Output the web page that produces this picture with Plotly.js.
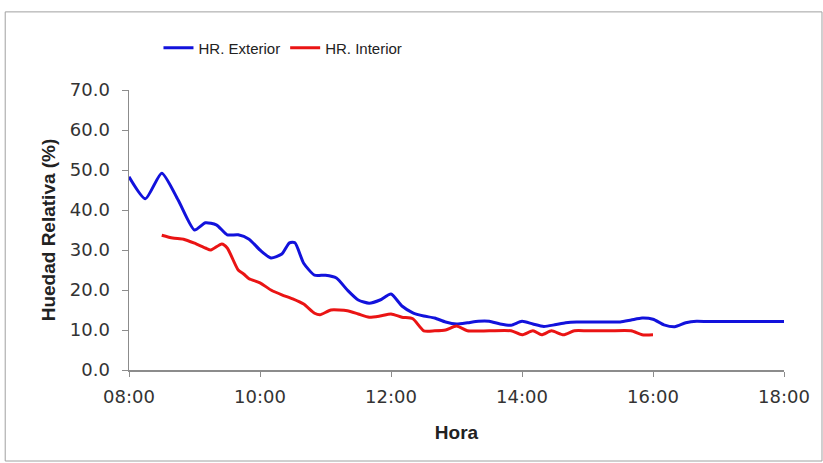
<!DOCTYPE html>
<html>
<head>
<meta charset="utf-8">
<script src="https://cdn.plot.ly/plotly-3.0.1.min.js"></script>
<style>html,body{margin:0;padding:0;background:#fff;}#chart{width:823px;height:463px;}</style>
</head>
<body>
<div id="chart"></div>
<script>
// Data
const extTimes = ["08:00","08:15","08:30","08:45","09:00","09:10","09:20","09:30","09:40","09:50",
  "10:00","10:10","10:20","10:27","10:32","10:40","10:50","11:00","11:10","11:20","11:30","11:40","11:50",
  "12:00","12:10","12:20","12:30","12:40","12:50","13:00","13:10","13:20","13:30","13:40","13:50",
  "14:00","14:10","14:20","14:30","14:40","14:50","15:00","15:10","15:20","15:30","15:40","15:50",
  "16:00","16:10","16:20","16:30","16:40","16:50","17:00","17:20","17:40","18:00"];
const extValues = [48.3,42.8,49.2,42.5,35.0,36.8,36.3,33.8,33.8,32.7,
  30.0,28.0,29.0,31.8,31.8,26.7,23.7,23.7,23.0,20.0,17.5,16.7,17.5,
  19.0,16.0,14.3,13.5,13.0,12.0,11.5,11.8,12.2,12.2,11.5,11.2,
  12.2,11.5,10.9,11.3,11.8,12.0,12.0,12.0,12.0,12.0,12.5,13.0,
  12.7,11.3,10.8,11.8,12.2,12.1,12.1,12.1,12.1,12.1];

const intTimes = ["08:30","08:40","08:50","09:00","09:10","09:15","09:25","09:30","09:40","09:45","09:50",
  "10:00","10:10","10:20","10:30","10:40","10:50","10:55","11:05","11:20","11:30","11:40","11:50",
  "12:00","12:10","12:20","12:30","12:40","12:50","13:00","13:10","13:30","13:50",
  "14:00","14:10","14:18","14:27","14:38","14:48","15:00","15:20","15:40","15:50","16:00"];
const intValues = [33.7,33.0,32.7,31.7,30.5,30.0,31.5,30.5,25.0,24.0,22.8,
  21.8,20.0,18.8,17.8,16.5,14.2,13.8,15.0,14.8,14.0,13.2,13.5,
  14.0,13.2,12.8,9.8,9.8,10.0,11.0,9.8,9.8,9.8,
  8.8,9.8,8.8,9.8,8.8,9.8,9.8,9.8,9.8,8.8,8.8];

const tickVals = [8,10,12,14,16,18];
const tickText = ["08:00","10:00","12:00","14:00","16:00","18:00"];

function toHours(t){ const p=t.split(":"); return +p[0] + (+p[1])/60; }

const font = "Liberation Sans, Arial, sans-serif";
const tickFamily = "DejaVu Sans, Liberation Sans, sans-serif";

const traces = [
  {x: extTimes.map(toHours), y: extValues, type: "scatter", mode: "lines", name: "HR. Exterior",
   line: {color: "#1212dc", width: 3, shape: "spline", smoothing: 0.6}},
  {x: intTimes.map(toHours), y: intValues, type: "scatter", mode: "lines", name: "HR. Interior",
   line: {color: "#ea1414", width: 3, shape: "spline", smoothing: 0.6}}
];

const layout = {
  width: 823, height: 463,
  margin: {l: 129, r: 39, t: 90, b: 93},
  paper_bgcolor: "#ffffff", plot_bgcolor: "#ffffff",
  font: {family: font, color: "#333333", size: 14},
  showlegend: true,
  legend: {orientation: "h", x: 0.045, xanchor: "left", y: 1.15, yanchor: "middle",
    font: {family: font, size: 15, color: "#222222"}, itemwidth: 30, bgcolor: "rgba(0,0,0,0)"},
  xaxis: {range: [8, 18], tickvals: tickVals, ticktext: tickText, showgrid: false, zeroline: false,
    showline: true, linecolor: "#8c8c8c", linewidth: 1.5, ticks: "outside", ticklen: 5, tickcolor: "#8c8c8c",
    ticklabelstandoff: 5,
    tickfont: {family: tickFamily, size: 18, color: "#333333"},
    title: {text: "<b>Hora</b>", font: {family: font, size: 19, color: "#222222"}, standoff: 19}},
  yaxis: {range: [0, 70], dtick: 10, tickformat: ".1f", showgrid: false, zeroline: false,
    showline: true, linecolor: "#8c8c8c", linewidth: 1.5, ticks: "outside", ticklen: 6, tickcolor: "#8c8c8c",
    ticklabelstandoff: 8,
    tickfont: {family: tickFamily, size: 18, color: "#333333"},
    title: {text: "<b>Huedad Relativa (%)</b>", font: {family: font, size: 19, color: "#222222"}, standoff: 9}},
  shapes: [{type: "rect", xref: "paper", yref: "paper", x0: -0.189, x1: 1.058, y0: -0.325, y1: 1.279,
    line: {color: "#a0a0a0", width: 1}, fillcolor: "rgba(0,0,0,0)", layer: "below"}]
};

Plotly.newPlot("chart", traces, layout, {displayModeBar: false, staticPlot: true});
</script>
</body>
</html>
